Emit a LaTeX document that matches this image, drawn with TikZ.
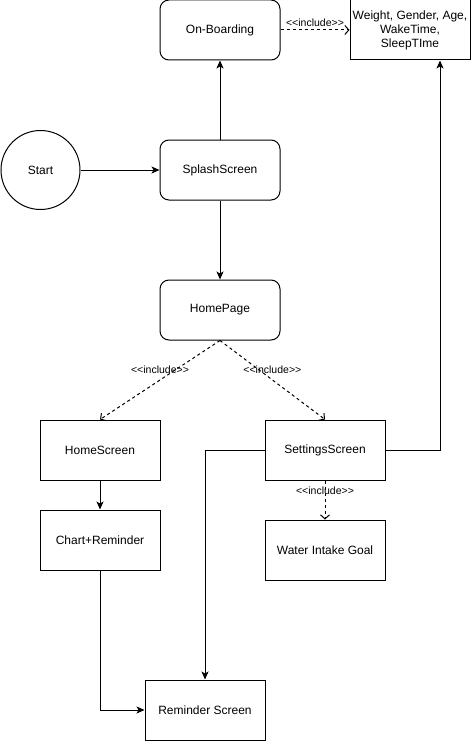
\documentclass[tikz,border=0pt]{standalone}
\usepackage{fontspec}
\setmainfont{Liberation Sans}[Ligatures=TeXOff]
\usetikzlibrary{arrows.meta,positioning}

\tikzset{
  screen/.style={draw, line width=1pt, minimum width=120pt, minimum height=60pt,
    inner sep=0pt, align=center, font=\fontsize{12}{14}\selectfont},
  roundscreen/.style={screen, rounded corners=9pt},
  flow/.style={line width=1pt, -{Stealth[length=8pt,width=7pt,inset=2pt]}},
  incl/.style={line width=1pt, dash pattern=on 3pt off 3pt,
    -{Straight Barb[length=4pt,width=9pt]}},
  incllabel/.style={font=\fontsize{10.5}{12}\selectfont, inner sep=1pt},
}

\begin{document}
\begin{tikzpicture}[x=1pt, y=-1pt]
  \useasboundingbox (0,0) rectangle (471,741);
  % states
  \node[draw, circle, line width=1pt, minimum size=79pt, inner sep=0pt,
    font=\fontsize{12}{14}\selectfont] (start) at (40.5,170) {Start};
  \node[roundscreen] (splash) at (220,170) {SplashScreen};
  \node[roundscreen] (onboard) at (220,30) {On-Boarding};
  \node[screen] (profile) at (410,30) {Weight, Gender, Age,\\WakeTime,\\SleepTIme};
  \node[roundscreen] (home) at (220,310) {HomePage};
  \node[screen] (homescr) at (100,450) {HomeScreen};
  \node[screen] (settings) at (325,450) {SettingsScreen};
  \node[screen] (chart) at (100,540) {Chart+Reminder};
  \node[screen] (water) at (325,550) {Water Intake Goal};
  \node[screen] (reminder) at (205,710) {Reminder Screen};
  % transitions
  \draw[flow] (start) -- (splash);
  \draw[flow] (splash) -- (onboard);
  \draw[flow] (splash) -- (home);
  \draw[flow] (homescr) -- (chart);
  \draw[flow] (chart.south) |- (reminder);
  \draw[flow] (settings.west) -| (reminder);
  \draw[flow] (settings.east) -| ([xshift=30pt]profile.south);
  % includes
  \draw[incl] (onboard) -- node[incllabel, above=2pt] {<<include>>} (profile);
  \draw[incl] (home.south) -- node[incllabel, pos=0.375, xshift=-15pt] {<<include>>} (homescr.north);
  \draw[incl] (home.south) -- node[incllabel, pos=0.375, xshift=13pt] {<<include>>} (settings.north);
  \draw[incl] (settings) -- node[incllabel, pos=0.275] {<<include>>} (water);
\end{tikzpicture}
\end{document}
